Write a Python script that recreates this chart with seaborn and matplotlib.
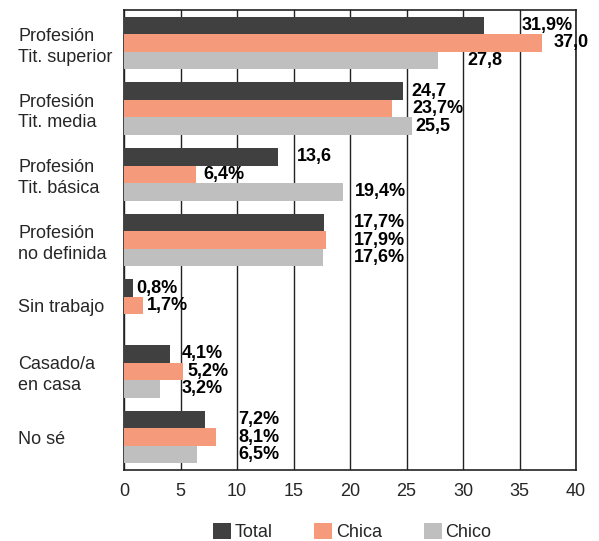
import matplotlib
matplotlib.use("Agg")
import matplotlib.pyplot as plt
import seaborn as sns
import pandas as pd
import numpy as np

categories = ["Profesión\nTit. superior", "Profesión\nTit. media", "Profesión\nTit. básica",
              "Profesión\nno definida", "Sin trabajo", "Casado/a\nen casa", "No sé"]
series = ["Total", "Chica", "Chico"]
total = [31.9, 24.7, 13.6, 17.7, 0.8, 4.1, 7.2]
chica = [37.0, 23.7, 6.4, 17.9, 1.7, 5.2, 8.1]
chico = [27.8, 25.5, 19.4, 17.6, 0.0, 3.2, 6.5]
labels_total = ["31,9%", "24,7", "13,6", "17,7%", "0,8%", "4,1%", "7,2%"]
labels_chica = ["37,0", "23,7%", "6,4%", "17,9%", "1,7%", "5,2%", "8,1%"]
labels_chico = ["27,8", "25,5", "19,4%", "17,6%", "", "3,2%", "6,5%"]
xticks = [0, 5, 10, 15, 20, 25, 30, 35, 40]

colors = {"Total": "#404040", "Chica": "#F59B7C", "Chico": "#BFBFBF"}
# small horizontal nudges of the value labels (in data units), as in the original
nudge = {
    "Total": [3.3, 0.7, 1.7, 2.6, 0.3, 1.0, 2.9],
    "Chica": [1.0, 1.8, 0.6, 2.4, 0.3, 0.4, 2.0],
    "Chico": [2.6, 0.3, 1.0, 2.7, 0.0, 1.9, 3.6],
}

df = pd.DataFrame({
    "cat": categories * 3,
    "serie": np.repeat(series, len(categories)),
    "val": total + chica + chico,
})
label_map = {"Total": labels_total, "Chica": labels_chica, "Chico": labels_chico}

sns.set_style("white")
plt.rcParams["font.family"] = ["Liberation Sans", "DejaVu Sans"]

fig = plt.figure(figsize=(5.99, 5.41), dpi=100)
ax = fig.add_axes([124 / 599, 1 - 470 / 541, 452 / 599, 460 / 541])

sns.barplot(data=df, y="cat", x="val", hue="serie", orient="h", palette=colors,
            width=0.8, saturation=1, ax=ax, legend=True, zorder=3,
            edgecolor="none", linewidth=0)

for cont, s in zip(ax.containers, series):
    for i, p in enumerate(cont.patches):
        txt = label_map[s][i]
        if not txt:
            continue
        ax.text(p.get_width() + nudge[s][i], p.get_y() + p.get_height() / 2, txt,
                ha="left", va="center", fontsize=13, fontweight="bold", color="black",
                zorder=5)

ax.set_xlim(0, 40)
ax.set_xticks(xticks)
ax.set_xticklabels([str(t) for t in xticks], fontsize=13)
ax.grid(axis="x", color="#222222", linewidth=1, zorder=0)
ax.grid(axis="y", visible=False)
ax.set_xlabel("")
ax.set_ylabel("")
for sp in ax.spines.values():
    sp.set_visible(True)
    sp.set_color("#222222")
    sp.set_linewidth(1.2)

ax.set_ylim(len(categories) - 0.5, -0.5)
ax.set_yticks(range(len(categories)))
ax.set_yticklabels(categories, fontsize=13, linespacing=1.3)
for lab in ax.get_yticklabels():
    lab.set_ha("left")
ax.tick_params(axis="y", which="major", length=0, pad=76)
ax.set_yticks(np.arange(-0.5, len(categories), 1.0), minor=True)
ax.tick_params(axis="y", which="minor", direction="in", length=8, width=1.2, color="#222222")
ax.tick_params(axis="x", length=0, pad=9)

handles, hl = ax.get_legend_handles_labels()
ax.get_legend().remove()
fig.legend(handles, hl, loc="lower center", bbox_to_anchor=(0.588, -0.03), ncol=3,
           frameon=False, fontsize=13, handlelength=1.0, handleheight=1.0,
           handletextpad=0.2, columnspacing=2.3)

fig.savefig("out.png", dpi=100)
